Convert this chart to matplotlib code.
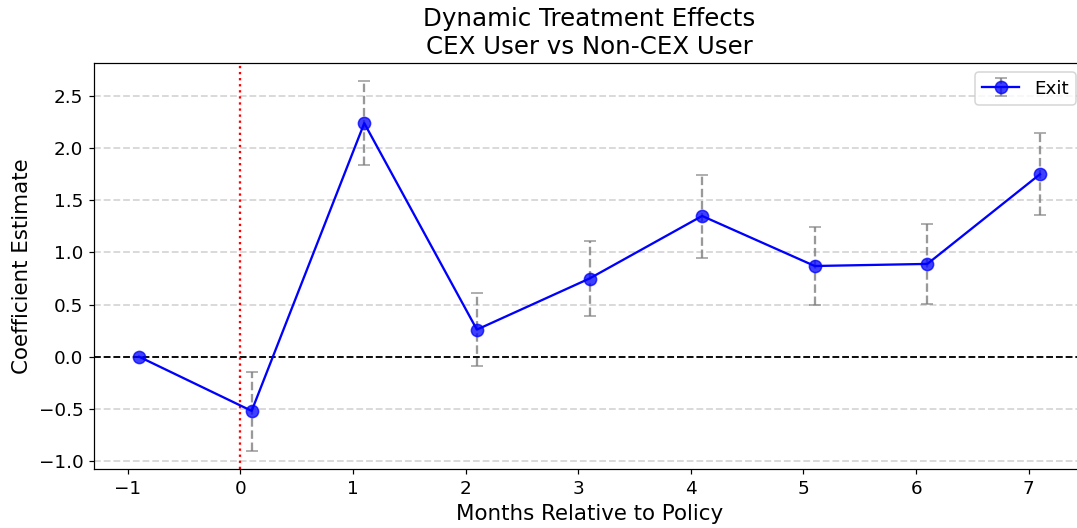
import matplotlib
matplotlib.use("Agg")
import matplotlib.pyplot as plt
import numpy as np

# Event-study estimates, months relative to the policy
months = [-1, 0, 1, 2, 3, 4, 5, 6, 7]
coef = [0.00, -0.52, 2.24, 0.26, 0.75, 1.35, 0.87, 0.89, 1.75]
ci_low = [0.00, -0.90, 1.84, -0.09, 0.39, 0.95, 0.50, 0.51, 1.36]
ci_high = [0.00, -0.15, 2.64, 0.61, 1.11, 1.74, 1.24, 1.27, 2.15]
series_name = "Exit"
offset = 0.1

x = np.array(months) + offset
c = np.array(coef)
yerr = np.vstack([c - np.array(ci_low), np.array(ci_high) - c])

DPI = 110
fig = plt.figure(figsize=(1077 / DPI, 528 / DPI), dpi=DPI)
ax = fig.add_axes([94 / 1077, 59 / 528, 991 / 1077, 406 / 528])

marker_rgba = (0.0, 0.0, 1.0, 0.75)
eb = ax.errorbar(x, c, yerr=yerr, fmt="o-", color="blue",
                 markerfacecolor=marker_rgba, markeredgecolor=marker_rgba,
                 ecolor=(0.5, 0.5, 0.5, 0.8), elinewidth=1.5, capsize=4,
                 markersize=8, linewidth=1.5, label=series_name)
eb[2][0].set_linestyle("--")

ax.axhline(0, color="black", linestyle="--", linewidth=1.2)
ax.axvline(0, color="red", linestyle=":", linewidth=1.5)
ax.grid(axis="y", linestyle="--", alpha=0.5, linewidth=1.2)

ax.set_xticks(months)
ax.tick_params(labelsize=12)
ax.set_xlabel("Months Relative to Policy", fontsize=14)
ax.set_ylabel("Coefficient Estimate", fontsize=14)
ax.set_title("Dynamic Treatment Effects\nCEX User vs Non-CEX User", fontsize=16)
ax.legend(loc="upper right", fontsize=12)

fig.savefig("out.png", dpi=DPI)
